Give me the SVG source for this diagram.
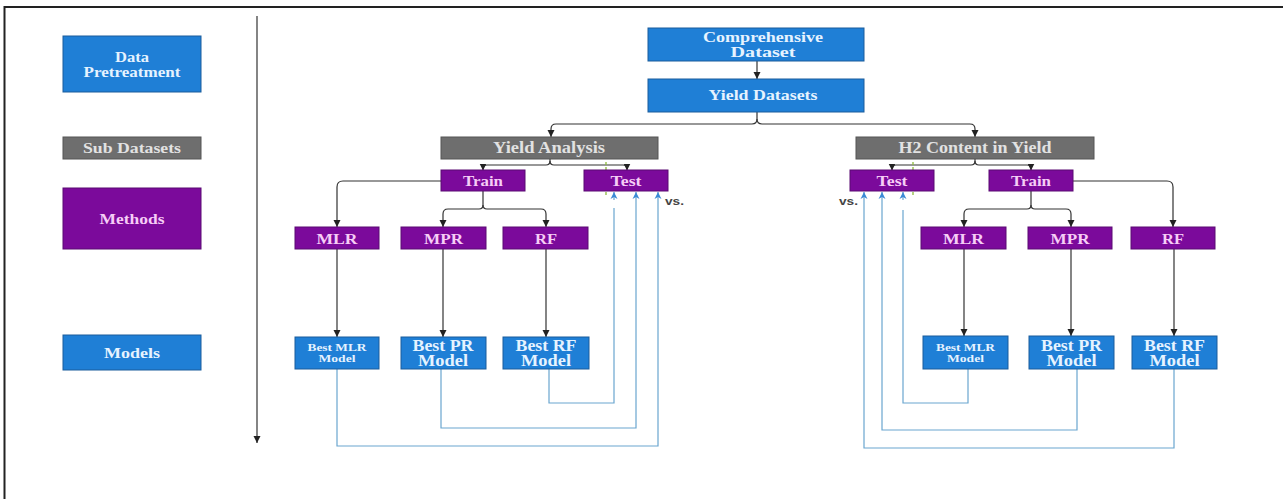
<svg xmlns="http://www.w3.org/2000/svg" width="1283" height="499" viewBox="0 0 1283 499">
<defs>
<style>
.blue{fill:#1f7fd6;stroke:#1a5c9c;stroke-width:1}
.purple{fill:#7b0a9b;stroke:#5a0a72;stroke-width:1}
.gray{fill:#6e6e6e;stroke:#555;stroke-width:1}
text{font-family:"Liberation Serif","Times New Roman",serif;font-weight:bold;text-anchor:middle}
.tb{fill:#e6f3ff}
.tp{fill:#f6cdf6}
.tg{fill:#e2e2e2}
.blk{fill:none;stroke:#333;stroke-width:1.2}
.bl{fill:none;stroke:#6aa6cf;stroke-width:1.2}
.dash{fill:none;stroke:#8dbb3c;stroke-width:1.3;stroke-dasharray:3,2}
.vs{font-family:"Liberation Sans",Arial,sans-serif;font-size:11px;fill:#444;text-anchor:start}
</style>
<marker id="ah" markerWidth="8" markerHeight="8" refX="7" refY="4" orient="auto" markerUnits="userSpaceOnUse">
<path d="M0,0.5 L7,4 L0,7.5 Z" fill="#222"/>
</marker>
<marker id="bh" markerWidth="8" markerHeight="8" refX="7" refY="4" orient="auto" markerUnits="userSpaceOnUse">
<path d="M0,0.5 L7,4 L0,7.5 L2,4 Z" fill="#3a8ad6"/>
</marker>
</defs>
<rect x="0" y="0" width="1283" height="499" fill="#fff"/>
<g id="frame">
<path d="M4.5,499 V7 H1283" fill="none" stroke="#222" stroke-width="2"/>
</g>
<g id="legend">
<g id="leg-data"><rect class="blue" x="63" y="36" width="138" height="56"/><text class="tb" font-size="15" x="132" y="62" textLength="34" lengthAdjust="spacingAndGlyphs">Data</text><text class="tb" font-size="15" x="132" y="77" textLength="97" lengthAdjust="spacingAndGlyphs">Pretreatment</text></g>
<g id="leg-sub"><rect class="gray" x="63" y="137" width="138" height="22"/><text class="tg" font-size="15" x="132" y="153" textLength="98" lengthAdjust="spacingAndGlyphs">Sub Datasets</text></g>
<g id="leg-methods"><rect class="purple" x="63" y="188" width="138" height="61"/><text class="tp" font-size="15" x="132" y="224" textLength="65" lengthAdjust="spacingAndGlyphs">Methods</text></g>
<g id="leg-models"><rect class="blue" x="63" y="335" width="138" height="35"/><text class="tb" font-size="15" x="132" y="358" textLength="56" lengthAdjust="spacingAndGlyphs">Models</text></g>
</g>
<g id="connectors">
<path d="M257,16 V443" class="blk" marker-end="url(#ah)"/>
<path d="M757,61 V79" class="blk" marker-end="url(#ah)"/>
<path d="M757,112 V119 Q757,124 752,124 H556 Q551,124 551,129 V137" class="blk" marker-end="url(#ah)"/>
<path d="M757,119 Q757,124 762,124 H970 Q975,124 975,129 V137" class="blk" marker-end="url(#ah)"/>
<path d="M550,159 V161 Q550,165 546,165 H487 Q483,165 483,168 V170.5" class="blk" marker-end="url(#ah)"/>
<path d="M550,161 Q550,165 554,165 H623 Q627,165 627,168 V170.5" class="blk" marker-end="url(#ah)"/>
<path d="M441,181 H343 Q337,181 337,187 V227" class="blk" marker-end="url(#ah)"/>
<path d="M483,191 V205 Q483,209 479,209 H448 Q443,209 443,214 V227" class="blk" marker-end="url(#ah)"/>
<path d="M483,205 Q483,209 487,209 H541 Q546,209 546,214 V227" class="blk" marker-end="url(#ah)"/>
<path d="M337,249 V337" class="blk" marker-end="url(#ah)"/>
<path d="M443,249 V337" class="blk" marker-end="url(#ah)"/>
<path d="M546,249 V337" class="blk" marker-end="url(#ah)"/>
<path d="M975,159 V161 Q975,165 971,165 H896 Q892,165 892,168 V170.5" class="blk" marker-end="url(#ah)"/>
<path d="M975,161 Q975,165 979,165 H1027 Q1031,165 1031,168 V170.5" class="blk" marker-end="url(#ah)"/>
<path d="M1073,181 H1167 Q1173,181 1173,187 V227" class="blk" marker-end="url(#ah)"/>
<path d="M1031,191 V205 Q1031,209 1027,209 H969 Q964,209 964,214 V227" class="blk" marker-end="url(#ah)"/>
<path d="M1031,205 Q1031,209 1035,209 H1066 Q1071,209 1071,214 V227" class="blk" marker-end="url(#ah)"/>
<path d="M964,249 V336" class="blk" marker-end="url(#ah)"/>
<path d="M1071,249 V336" class="blk" marker-end="url(#ah)"/>
<path d="M1174,249 V336" class="blk" marker-end="url(#ah)"/>
<path d="M549,369 V403 H614 V208" class="bl"/>
<path d="M614,200 V192" class="bl" marker-end="url(#bh)"/>
<path d="M441,369 V428 H636 V192" class="bl" marker-end="url(#bh)"/>
<path d="M337,369 V446 H658 V192" class="bl" marker-end="url(#bh)"/>
<path d="M968,369 V403 H903 V210" class="bl"/>
<path d="M903,200 V192" class="bl" marker-end="url(#bh)"/>
<path d="M1077,369 V430 H882 V192" class="bl" marker-end="url(#bh)"/>
<path d="M1174,369 V448 H864 V192" class="bl" marker-end="url(#bh)"/>
<path d="M606,162 V197" class="dash"/>
<path d="M913,162 V197" class="dash"/>
</g>
<g id="comprehensive"><rect class="blue" x="648" y="28" width="216" height="33"/><text class="tb" font-size="15" x="763" y="42" textLength="120" lengthAdjust="spacingAndGlyphs">Comprehensive</text><text class="tb" font-size="15" x="763" y="57" textLength="65" lengthAdjust="spacingAndGlyphs">Dataset</text></g>
<g id="yield-datasets"><rect class="blue" x="648" y="79" width="216" height="33"/><text class="tb" font-size="15" x="763" y="100" textLength="109" lengthAdjust="spacingAndGlyphs">Yield Datasets</text></g>
<g id="yield-analysis"><rect class="gray" x="441" y="137" width="217" height="22"/><text class="tg" font-size="16" x="549" y="153" textLength="112" lengthAdjust="spacingAndGlyphs">Yield Analysis</text></g>
<g id="h2-content"><rect class="gray" x="856" y="137" width="238" height="22"/><text class="tg" font-size="16" x="975" y="153" textLength="153" lengthAdjust="spacingAndGlyphs">H2 Content in Yield</text></g>
<g id="train-l"><rect class="purple" x="441" y="170" width="84" height="21"/><text class="tp" font-size="15" x="483" y="185.5" textLength="40" lengthAdjust="spacingAndGlyphs">Train</text></g>
<g id="test-l"><rect class="purple" x="584" y="170" width="84" height="21"/><text class="tp" font-size="15" x="626" y="185.5" textLength="31" lengthAdjust="spacingAndGlyphs">Test</text></g>
<g id="test-r"><rect class="purple" x="850" y="170" width="84" height="21"/><text class="tp" font-size="15" x="892" y="185.5" textLength="31" lengthAdjust="spacingAndGlyphs">Test</text></g>
<g id="train-r"><rect class="purple" x="989" y="170" width="84" height="21"/><text class="tp" font-size="15" x="1031" y="185.5" textLength="40" lengthAdjust="spacingAndGlyphs">Train</text></g>
<text class="vs" x="665" y="205" textLength="19" lengthAdjust="spacingAndGlyphs">vs.</text>
<text class="vs" x="839" y="205" textLength="19" lengthAdjust="spacingAndGlyphs">vs.</text>
<g id="mlr-l"><rect class="purple" x="295" y="227" width="84" height="22"/><text class="tp" font-size="15" x="337" y="243.5" textLength="41" lengthAdjust="spacingAndGlyphs">MLR</text></g>
<g id="mpr-l"><rect class="purple" x="401" y="227" width="85" height="22"/><text class="tp" font-size="15" x="443.5" y="243.5" textLength="39" lengthAdjust="spacingAndGlyphs">MPR</text></g>
<g id="rf-l"><rect class="purple" x="503" y="227" width="85" height="22"/><text class="tp" font-size="15" x="546" y="243.5" textLength="22" lengthAdjust="spacingAndGlyphs">RF</text></g>
<g id="mlr-r"><rect class="purple" x="921" y="227" width="85" height="22"/><text class="tp" font-size="15" x="963.5" y="243.5" textLength="41" lengthAdjust="spacingAndGlyphs">MLR</text></g>
<g id="mpr-r"><rect class="purple" x="1028" y="227" width="84" height="22"/><text class="tp" font-size="15" x="1070" y="243.5" textLength="39" lengthAdjust="spacingAndGlyphs">MPR</text></g>
<g id="rf-r"><rect class="purple" x="1131" y="227" width="84" height="22"/><text class="tp" font-size="15" x="1173" y="243.5" textLength="22" lengthAdjust="spacingAndGlyphs">RF</text></g>
<g id="bmlr-l"><rect class="blue" x="295" y="337" width="84" height="32"/><text class="tb" font-size="11" x="337" y="350.5" textLength="59" lengthAdjust="spacingAndGlyphs">Best MLR</text><text class="tb" font-size="11" x="337" y="362" textLength="37" lengthAdjust="spacingAndGlyphs">Model</text></g>
<g id="bpr-l"><rect class="blue" x="401" y="337" width="85" height="32"/><text class="tb" font-size="16" x="443" y="350.5" textLength="61" lengthAdjust="spacingAndGlyphs">Best PR</text><text class="tb" font-size="16" x="443" y="366" textLength="50" lengthAdjust="spacingAndGlyphs">Model</text></g>
<g id="brf-l"><rect class="blue" x="503" y="337" width="86" height="32"/><text class="tb" font-size="16" x="546" y="350.5" textLength="61" lengthAdjust="spacingAndGlyphs">Best RF</text><text class="tb" font-size="16" x="546" y="366" textLength="50" lengthAdjust="spacingAndGlyphs">Model</text></g>
<g id="bmlr-r"><rect class="blue" x="923" y="336" width="85" height="33"/><text class="tb" font-size="11" x="965.5" y="350.5" textLength="59" lengthAdjust="spacingAndGlyphs">Best MLR</text><text class="tb" font-size="11" x="965.5" y="362" textLength="37" lengthAdjust="spacingAndGlyphs">Model</text></g>
<g id="bpr-r"><rect class="blue" x="1029" y="336" width="85" height="33"/><text class="tb" font-size="16" x="1071.5" y="350.5" textLength="61" lengthAdjust="spacingAndGlyphs">Best PR</text><text class="tb" font-size="16" x="1071.5" y="366" textLength="50" lengthAdjust="spacingAndGlyphs">Model</text></g>
<g id="brf-r"><rect class="blue" x="1132" y="336" width="85" height="33"/><text class="tb" font-size="16" x="1174.5" y="350.5" textLength="61" lengthAdjust="spacingAndGlyphs">Best RF</text><text class="tb" font-size="16" x="1174.5" y="366" textLength="50" lengthAdjust="spacingAndGlyphs">Model</text></g>
</svg>
